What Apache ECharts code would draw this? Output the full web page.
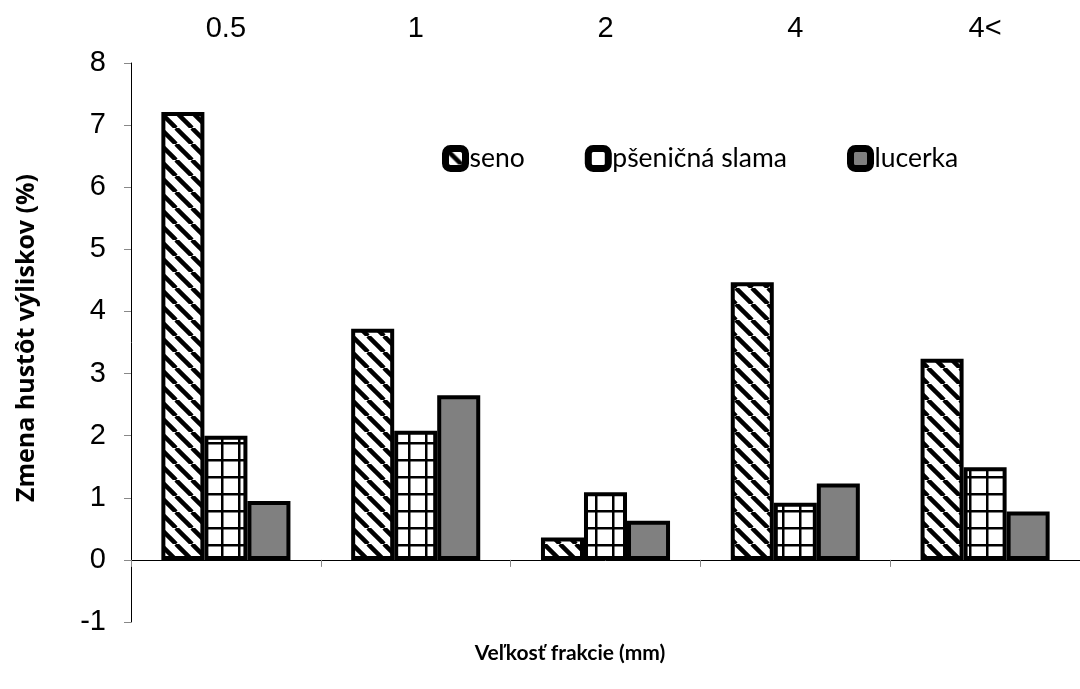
<!DOCTYPE html>
<html>
<head>
<meta charset="utf-8">
<script src="https://cdn.jsdelivr.net/npm/echarts@6/dist/echarts.min.js"></script>
<style>html,body{margin:0;padding:0;background:#fff;}#c{width:1080px;height:689px;}</style>
</head>
<body>
<div id="c"></div>
<script>
const categories = ['0.5', '1', '2', '4', '4<'];
const seno = [7.21, 3.72, 0.36, 4.47, 3.24];
const psenicnaSlama = [2.0, 2.08, 1.09, 0.92, 1.49];
const lucerka = [0.95, 2.65, 0.63, 1.23, 0.78];
const seriesNames = ['seno', 'pšeničná slama', 'lucerka'];
const yTicks = { min: -1, max: 8, interval: 1 };

function hatchTile() {
  const p = 16;
  const c = document.createElement('canvas');
  c.width = p; c.height = p;
  const g = c.getContext('2d');
  g.fillStyle = '#fff'; g.fillRect(0, 0, p, p);
  g.strokeStyle = '#000'; g.lineWidth = 4.5;
  for (let k = -1; k <= 1; k++) {
    g.beginPath(); g.moveTo(k * p, 0); g.lineTo(k * p + p, p); g.stroke();
  }
  return c;
}
function gridTile() {
  const p = 17;
  const c = document.createElement('canvas');
  c.width = p; c.height = p;
  const g = c.getContext('2d');
  g.fillStyle = '#fff'; g.fillRect(0, 0, p, p);
  g.fillStyle = '#000';
  g.fillRect(0, 0, 2.5, p);
  g.fillRect(0, 0, p, 2.5);
  return c;
}

const fills = [
  { image: hatchTile(), repeat: 'repeat' },
  { image: gridTile(), repeat: 'repeat' },
  '#808080'
];
const data = [seno, psenicnaSlama, lucerka];

const chart = echarts.init(document.getElementById('c'));
chart.setOption({
  backgroundColor: '#fff',
  animation: false,
  grid: { left: 131, top: 63, width: 960, height: 559, containLabel: false },
  legend: {
    left: 437, top: 140,
    itemWidth: 20, itemHeight: 20, itemGap: 60,
    icon: 'roundRect',
    textStyle: { fontFamily: 'Lato', fontSize: 26.5, color: '#000', padding: [0, 0, 0, -1] },
    itemStyle: { borderColor: '#000', borderWidth: 7 },
    data: seriesNames
  },
  xAxis: [
    {
      type: 'category', data: categories, position: 'bottom',
      axisLine: { onZero: true, lineStyle: { color: '#000', width: 1 } },
      axisTick: { show: true, length: 7, lineStyle: { color: '#888' } },
      axisLabel: { show: false },
      splitLine: { show: false }
    },
    {
      type: 'category', data: categories, position: 'top',
      axisLine: { show: false, onZero: false },
      axisTick: { show: false },
      axisLabel: { show: true, margin: 20, fontFamily: 'Liberation Sans', fontSize: 29, color: '#000' }
    }
  ],
  yAxis: {
    type: 'value', min: yTicks.min, max: yTicks.max, interval: yTicks.interval,
    axisLine: { show: true, lineStyle: { color: '#000', width: 1 } },
    axisTick: { show: true, length: 7, lineStyle: { color: '#888' } },
    axisLabel: { margin: 25, fontFamily: 'Liberation Sans', fontSize: 29, color: '#000' },
    splitLine: { show: false }
  },
  series: seriesNames.map((n, i) => ({
    name: n, type: 'bar', data: data[i],
    barGap: '0%', barCategoryGap: '32%',
    itemStyle: { color: fills[i], borderColor: '#000', borderWidth: 4 }
  })),
  graphic: [
    {
      type: 'text',
      x: 27, y: 338, rotation: Math.PI / 2,
      style: { text: 'Zmena hustôt výliskov (%)', fontFamily: 'Open Sans', fontWeight: 'bold', fontSize: 25, fill: '#000', align: 'center', verticalAlign: 'middle' }
    },
    {
      type: 'text',
      x: 570, y: 653,
      style: { text: 'Veľkosť frakcie (mm)', fontFamily: 'Lato', fontWeight: 'bold', fontSize: 21, fill: '#000', align: 'center', verticalAlign: 'middle' }
    }
  ]
});
</script>
</body>
</html>
